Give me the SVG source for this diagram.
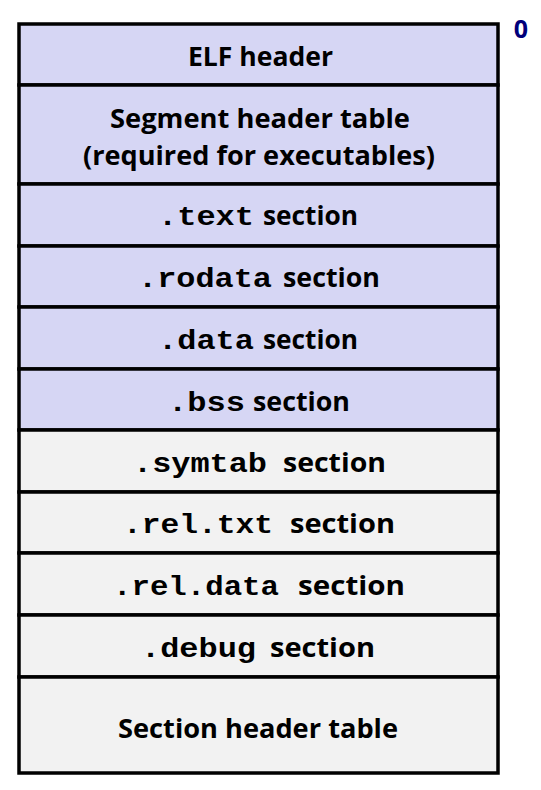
<svg xmlns="http://www.w3.org/2000/svg" width="541" height="790" viewBox="0 0 541 790">
<style>
.b{fill:#d6d6f4;stroke:#000;stroke-width:3.5}
.g{fill:#f2f2f2;stroke:#000;stroke-width:3.5}
.s{font-family:"Open Sans","Liberation Sans",sans-serif;font-weight:bold;font-size:27.5px;fill:#000}
.m{font-family:"Liberation Mono","Courier New",monospace;font-weight:bold;font-size:28px;fill:#000}
</style>
<rect width="541" height="790" fill="#fff"/>
<g id="elf-header"><rect class="b" x="19" y="24" width="479" height="61"/><text class="s" x="188" y="66" textLength="145" lengthAdjust="spacingAndGlyphs">ELF header</text></g>
<g id="segment-header-table"><rect class="b" x="19" y="85" width="479" height="99"/><text class="s" x="110" y="128" textLength="300" lengthAdjust="spacingAndGlyphs">Segment header table</text><text class="s" x="83" y="165" textLength="352" lengthAdjust="spacingAndGlyphs">(required for executables)</text></g>
<g id="text-section"><rect class="b" x="19" y="184" width="479" height="62"/><text class="m" x="158" y="225" textLength="96" lengthAdjust="spacingAndGlyphs">.text</text><text class="s" x="263" y="225" textLength="95" lengthAdjust="spacingAndGlyphs">section</text></g>
<g id="rodata-section"><rect class="b" x="19" y="246" width="479" height="61"/><text class="m" x="138" y="287" textLength="134" lengthAdjust="spacingAndGlyphs">.rodata</text><text class="s" x="283" y="287" textLength="97" lengthAdjust="spacingAndGlyphs">section</text></g>
<g id="data-section"><rect class="b" x="19" y="307" width="479" height="62"/><text class="m" x="158" y="349" textLength="96" lengthAdjust="spacingAndGlyphs">.data</text><text class="s" x="263" y="349" textLength="95" lengthAdjust="spacingAndGlyphs">section</text></g>
<g id="bss-section"><rect class="b" x="19" y="369" width="479" height="61"/><text class="m" x="168" y="411" textLength="77" lengthAdjust="spacingAndGlyphs">.bss</text><text class="s" x="253" y="411" textLength="97" lengthAdjust="spacingAndGlyphs">section</text></g>
<g id="symtab-section"><rect class="g" x="19" y="430" width="479" height="62"/><text class="m" x="133" y="472" textLength="134" lengthAdjust="spacingAndGlyphs">.symtab</text><text class="s" x="283" y="472" textLength="103" lengthAdjust="spacingAndGlyphs">section</text></g>
<g id="rel-txt-section"><rect class="g" x="19" y="492" width="479" height="61"/><text class="m" x="123" y="533" textLength="150" lengthAdjust="spacingAndGlyphs">.rel.txt</text><text class="s" x="290" y="533" textLength="105" lengthAdjust="spacingAndGlyphs">section</text></g>
<g id="rel-data-section"><rect class="g" x="19" y="553" width="479" height="62"/><text class="m" x="113" y="595" textLength="166" lengthAdjust="spacingAndGlyphs">.rel.data</text><text class="s" x="298" y="595" textLength="107" lengthAdjust="spacingAndGlyphs">section</text></g>
<g id="debug-section"><rect class="g" x="19" y="615" width="479" height="62"/><text class="m" x="141" y="657" textLength="115" lengthAdjust="spacingAndGlyphs">.debug</text><text class="s" x="270" y="657" textLength="105" lengthAdjust="spacingAndGlyphs">section</text></g>
<g id="section-header-table"><rect class="g" x="19" y="677" width="479" height="96"/><text class="s" x="118" y="738" textLength="280" lengthAdjust="spacingAndGlyphs">Section header table</text></g>
<g id="offset-label"><text x="521" y="38" text-anchor="middle" font-family="Open Sans, Liberation Sans, sans-serif" font-weight="bold" font-size="25" fill="#00007a">0</text></g>
<g id="connectors"/>
</svg>
